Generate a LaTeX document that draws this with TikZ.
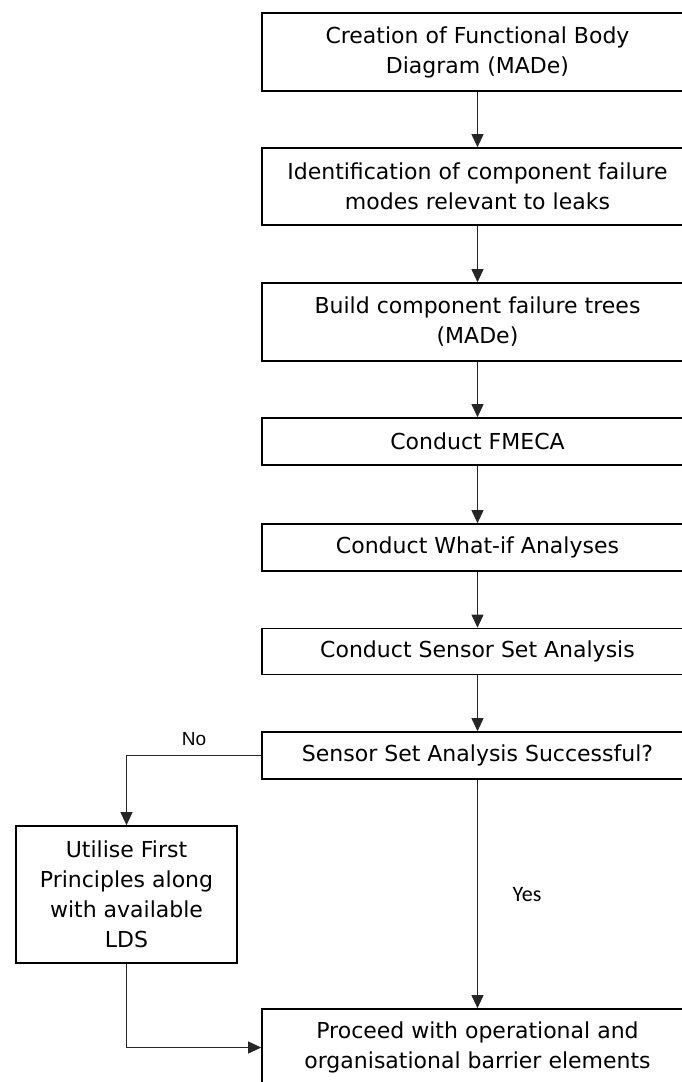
\documentclass[tikz,border=0pt]{standalone}
\usepackage{fontspec}
\setmainfont{DejaVu Sans}
\newfontfamily\labelfont{Liberation Sans}
\newfontfamily\yesfont{Carlito}
\usetikzlibrary{arrows.meta}
\begin{document}
\begin{tikzpicture}[x=1pt,y=-1pt,
  stepbox/.style={draw=black, line width=1.7pt, rectangle, inner sep=0pt,
    align=center, font=\fontsize{22}{30}\selectfont},
  mainbox/.style={stepbox, minimum width=431pt},
  flow/.style={draw=black!85, line width=1pt,
    -{Triangle[length=13pt,width=12pt]}}]
  \useasboundingbox (0,0) rectangle (681,1082);

  % main column of steps
  \node[mainbox, minimum height=78pt] (fbd) at (477.5,52)
    {Creation of Functional Body\\Diagram (MADe)};
  \node[mainbox, minimum height=77pt] (modes) at (477.5,186.5)
    {Identification of component failure\\modes relevant to leaks};
  \node[mainbox, minimum height=78pt] (trees) at (477.5,322)
    {Build component failure trees\\(MADe)};
  \node[mainbox, minimum height=47pt] (fmeca) at (477.5,441.5)
    {Conduct FMECA};
  \node[mainbox, minimum height=47pt] (whatif) at (477.5,547.5)
    {Conduct What-if Analyses};
  \node[mainbox, minimum height=46pt] (sensor) at (477.5,651.5)
    {Conduct Sensor Set Analysis};
  \node[mainbox, minimum height=47pt] (ok) at (477.5,755.5)
    {Sensor Set Analysis Successful?};
  \node[mainbox, minimum height=77pt] (proceed) at (477.5,1047.5)
    {Proceed with operational and\\organisational barrier elements};

  % fallback branch
  \node[stepbox, minimum width=221pt, minimum height=137pt] (first) at (126.5,894.5)
    {Utilise First\\Principles along\\with available\\LDS};

  % connectors
  \draw[flow] (fbd) -- (modes);
  \draw[flow] (modes) -- (trees);
  \draw[flow] (trees) -- (fmeca);
  \draw[flow] (fmeca) -- (whatif);
  \draw[flow] (whatif) -- (sensor);
  \draw[flow] (sensor) -- (ok);
  \draw[flow] (ok.south) -- (proceed.north);
  \draw[flow] (ok.west) -| (first.north);
  \draw[flow] (first.south) |- (proceed.west);

  % branch labels
  \node[font=\labelfont\fontsize{19}{22}\selectfont, inner sep=0pt] (no) at (194,739) {No};
  \node[font=\yesfont\fontsize{22}{24}\selectfont, inner sep=0pt] (yes) at (527,895) {Yes};
\end{tikzpicture}
\end{document}
